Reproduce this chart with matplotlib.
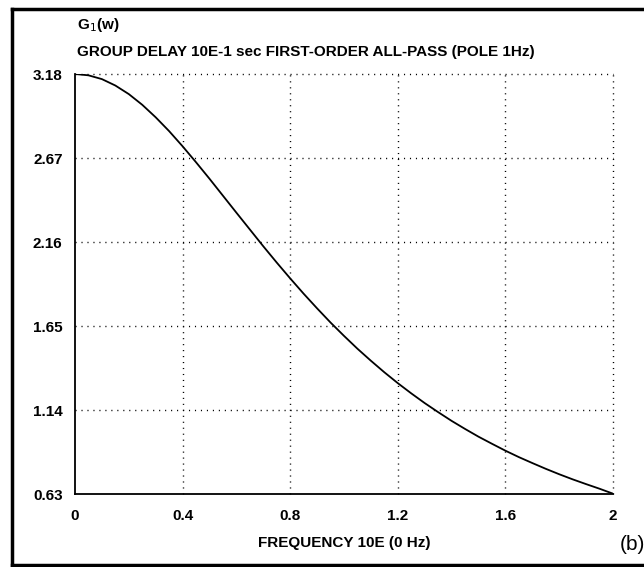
import numpy as np
import matplotlib
matplotlib.use("Agg")
import matplotlib.pyplot as plt
from matplotlib.lines import Line2D

# Values
freq = [0.0, 0.05, 0.1, 0.15, 0.2, 0.25, 0.3, 0.35, 0.4, 0.45, 0.5,
        0.55, 0.6, 0.65, 0.7, 0.75, 0.8, 0.85, 0.9, 0.95, 1.0,
        1.05, 1.1, 1.15, 1.2, 1.25, 1.3, 1.35, 1.4, 1.45, 1.5,
        1.55, 1.6, 1.65, 1.7, 1.75, 1.8, 1.85, 1.9, 1.95, 2.0]
delay = [3.180, 3.172, 3.149, 3.110, 3.058, 2.993, 2.917, 2.833, 2.741, 2.644, 2.544,
         2.441, 2.338, 2.236, 2.134, 2.035, 1.939, 1.846, 1.757, 1.671, 1.590,
         1.512, 1.439, 1.369, 1.303, 1.241, 1.182, 1.127, 1.074, 1.025, 0.978,
         0.935, 0.893, 0.854, 0.818, 0.783, 0.750, 0.719, 0.690, 0.662, 0.632]

x_ticks = [0, 0.4, 0.8, 1.2, 1.6, 2]
x_labels = ["0", "0.4", "0.8", "1.2", "1.6", "2"]
y_ticks = [0.63, 1.14, 1.65, 2.16, 2.67, 3.18]
y_labels = ["0.63", "1.14", "1.65", "2.16", "2.67", "3.18"]

FONT = ['Liberation Sans', 'DejaVu Sans']
plt.rcParams['font.family'] = FONT
FS = 11

W, H = 644, 567
fig = plt.figure(figsize=(W / 100, H / 100), dpi=100)
ax = fig.add_axes([75 / W, 1 - 494 / H, 538 / W, 420 / H])

ax.plot(freq, delay, color='black', linewidth=1.3)
ax.set_xlim(0, 2)
ax.set_ylim(0.63, 3.18)

# dotted grid incl. top and right edges
dots = (0, (0.8, 3.5))
for xv in x_ticks[1:]:
    ax.axvline(xv, color='black', linewidth=1.0, linestyle=dots, clip_on=False)
for yv in y_ticks[1:]:
    ax.axhline(yv, color='black', linewidth=1.0, linestyle=dots, clip_on=False)

ax.spines['top'].set_visible(False)
ax.spines['right'].set_visible(False)
ax.spines['left'].set_linewidth(1.3)
ax.spines['bottom'].set_linewidth(1.3)

ax.set_xticks(x_ticks)
ax.set_xticklabels(x_labels, fontsize=FS, fontweight='bold')
ax.set_yticks(y_ticks)
ax.set_yticklabels(y_labels, fontsize=FS, fontweight='bold')
ax.tick_params(axis='x', length=0, pad=11)
ax.tick_params(axis='y', length=0, pad=9)

ax.set_xlabel("FREQUENCY 10E (0 Hz)", fontsize=FS, fontweight='bold', labelpad=9)

fig.text(77 / W, 1 - 25 / H, r"G$_1$(w)", fontsize=FS, fontweight='bold',
         va='center', ha='left')
fig.text(77 / W, 1 - 52 / H, "GROUP DELAY 10E-1 sec FIRST-ORDER ALL-PASS (POLE 1Hz)",
         fontsize=FS, fontweight='bold', va='center', ha='left')
fig.text(632 / W, 1 - 545 / H, "(b)", fontsize=15,
         va='center', ha='center')

# outer frame (left, top, bottom)
frame_kw = dict(color='black', linewidth=2.5, transform=fig.transFigure)
fig.add_artist(Line2D([12 / W, 12 / W], [1 - 9 / H, 1 - 565 / H], **frame_kw))
fig.add_artist(Line2D([12 / W, 1.0], [1 - 9 / H, 1 - 9 / H], **frame_kw))
fig.add_artist(Line2D([12 / W, 1.0], [1 - 565 / H, 1 - 565 / H], **frame_kw))

fig.savefig("out.png", dpi=100)
